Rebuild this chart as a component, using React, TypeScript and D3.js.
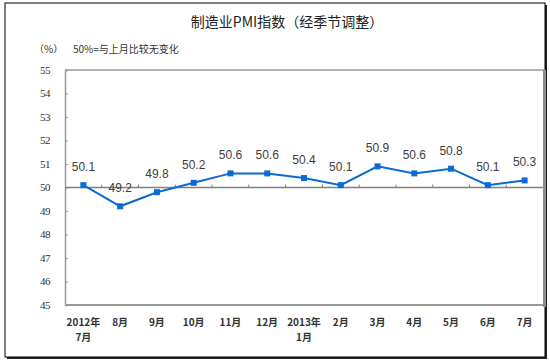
import React, { useEffect, useRef } from "react";
import * as d3 from "d3";

const MONTHS = ["2012年\n7月", "8月", "9月", "10月", "11月", "12月", "2013年\n1月", "2月", "3月", "4月", "5月", "6月", "7月"];
const PMI = [50.1, 49.2, 49.8, 50.2, 50.6, 50.6, 50.4, 50.1, 50.9, 50.6, 50.8, 50.1, 50.3];
const Y_TICKS = [45, 46, 47, 48, 49, 50, 51, 52, 53, 54, 55];

const WIDTH = 550;
const HEIGHT = 362;
const PLOT = { left: 65, top: 70, right: 543, bottom: 305 };
const LINE_COLOR = "#0a6ad6";
const CJK = "'Noto Sans CJK SC', sans-serif";

export default function App() {
  const ref = useRef<SVGSVGElement>(null);

  useEffect(() => {
    const svg = d3.select(ref.current);
    svg.selectAll("*").remove();

    const x = d3.scaleBand<number>().domain(d3.range(MONTHS.length)).range([PLOT.left, PLOT.right]);
    const y = d3.scaleLinear().domain([45, 55]).range([PLOT.bottom, PLOT.top]);
    const cx = (i: number) => (x(i) as number) + x.bandwidth() / 2;

    // outer frame with shadow
    svg.append("rect").attr("x", 7).attr("y", 5).attr("width", 540).attr("height", 354).attr("fill", "#222");
    svg.append("rect").attr("x", 5).attr("y", 3).attr("width", 540).attr("height", 354)
      .attr("fill", "#fff").attr("stroke", "#000").attr("stroke-width", 1);

    // title
    svg.append("text").attr("x", 287).attr("y", 27).attr("text-anchor", "middle")
      .attr("font-family", CJK).attr("font-size", 14).attr("fill", "#222")
      .text("制造业PMI指数（经季节调整）");
    svg.append("text").attr("x", 34).attr("y", 53).attr("font-family", CJK)
      .attr("font-size", 10).attr("fill", "#333").text("（%）");
    svg.append("text").attr("x", 73).attr("y", 53).attr("font-family", CJK)
      .attr("font-size", 10).attr("fill", "#333").text("50%=与上月比较无变化");

    // plot frame
    svg.append("rect").attr("x", PLOT.right).attr("y", PLOT.top).attr("width", 3)
      .attr("height", PLOT.bottom - PLOT.top + 2).attr("fill", "#8c8c8c");
    svg.append("line").attr("x1", PLOT.left).attr("x2", PLOT.right + 2).attr("y1", PLOT.top).attr("y2", PLOT.top)
      .attr("stroke", "#999").attr("stroke-width", 1.5);
    svg.append("line").attr("x1", PLOT.left).attr("x2", PLOT.right).attr("y1", PLOT.bottom).attr("y2", PLOT.bottom)
      .attr("stroke", "#999").attr("stroke-width", 2);

    // y axis
    const yAxis = svg.append("g").attr("transform", `translate(${PLOT.left},0)`)
      .call(d3.axisRight(y).tickValues(Y_TICKS).tickSize(3).tickFormat(() => ""));
    yAxis.select(".domain").attr("stroke", "#999").attr("stroke-width", 1.5);
    yAxis.selectAll(".tick line").attr("stroke", "#999");
    svg.append("g").selectAll("text").data(Y_TICKS).join("text")
      .attr("x", 50).attr("y", (d) => y(d)).attr("dy", "0.35em").attr("text-anchor", "end")
      .attr("font-family", "'Liberation Serif', serif").attr("font-size", 11).attr("fill", "#333")
      .attr("letter-spacing", -0.5).text((d) => d);

    // 50 reference axis with ticks at band boundaries
    svg.append("line").attr("x1", PLOT.left).attr("x2", PLOT.right).attr("y1", y(50)).attr("y2", y(50))
      .attr("stroke", "#808080").attr("stroke-width", 1.5);
    svg.append("g").selectAll("line").data(d3.range(1, MONTHS.length)).join("line")
      .attr("x1", (i) => x(i) as number).attr("x2", (i) => x(i) as number)
      .attr("y1", y(50) - 3).attr("y2", y(50)).attr("stroke", "#808080");

    // x labels
    svg.append("g").selectAll("text").data(MONTHS).join("text")
      .attr("text-anchor", "middle").attr("font-family", CJK).attr("font-size", 10)
      .attr("font-weight", "bold").attr("fill", "#333")
      .each(function (d, i) {
        const t = d3.select(this);
        d.split("\n").forEach((line, k) => {
          t.append("tspan").attr("x", cx(i)).attr("y", 326 + k * 15).text(line);
        });
      });

    // line + markers
    const line = d3.line<number>().x((_, i) => cx(i)).y((d) => y(d));
    svg.append("path").attr("d", line(PMI)).attr("fill", "none")
      .attr("stroke", LINE_COLOR).attr("stroke-width", 2);
    svg.append("g").selectAll("rect").data(PMI).join("rect")
      .attr("x", (_, i) => cx(i) - 3).attr("y", (d) => y(d) - 3)
      .attr("width", 6).attr("height", 6).attr("fill", LINE_COLOR);

    // data labels
    svg.append("g").selectAll("text").data(PMI).join("text")
      .attr("x", (_, i) => cx(i)).attr("y", (d) => y(d) - 14).attr("text-anchor", "middle")
      .attr("font-family", "'Liberation Sans', Arial, sans-serif").attr("font-size", 12)
      .attr("fill", "#404040").text((d) => d.toFixed(1));
  }, []);

  return <svg ref={ref} width={WIDTH} height={HEIGHT} style={{ display: "block", position: "absolute", left: 0, top: 0 }} />;
}
